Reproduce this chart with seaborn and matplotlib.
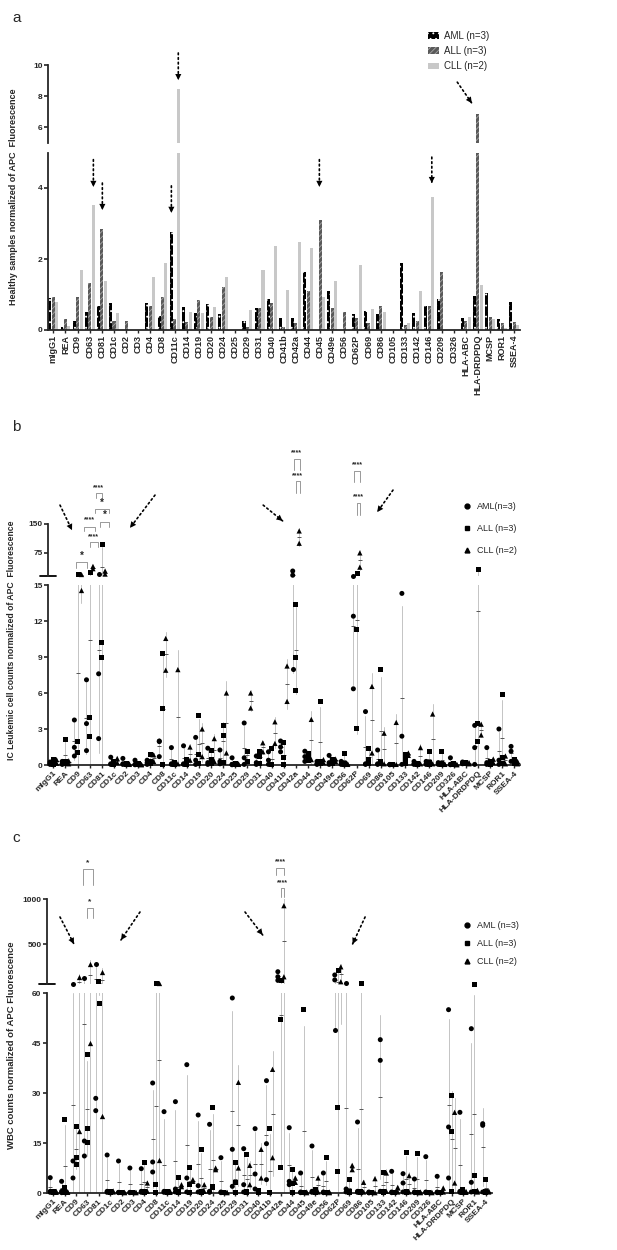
import numpy as np
import pandas as pd
import seaborn as sns
import matplotlib.pyplot as plt
from matplotlib.patches import Patch
from matplotlib.lines import Line2D

sns.set_style('ticks')
plt.rcParams['font.family'] = ['Liberation Sans', 'DejaVu Sans']
plt.rcParams['hatch.linewidth'] = 0.6

MARKERS = ['mIgG1', 'REA', 'CD9', 'CD63', 'CD81', 'CD1c', 'CD2', 'CD3', 'CD4', 'CD8',
           'CD11c', 'CD14', 'CD19', 'CD20', 'CD24', 'CD25', 'CD29', 'CD31', 'CD40', 'CD41b',
           'CD42a', 'CD44', 'CD45', 'CD49e', 'CD56', 'CD62P', 'CD69', 'CD86', 'CD105', 'CD133',
           'CD142', 'CD146', 'CD209', 'CD326', 'HLA-ABC', 'HLA-DRDPDQ', 'MCSP', 'ROR1', 'SSEA-4']
GROUPS = ['AML', 'ALL', 'CLL']

# panel a: healthy samples (mean bars)
a_aml = [0.90, 0.08, 0.25, 0.51, 0.68, 0.75, 0, 0, 0.75, 0.40, 2.77, 0.64, 0.47, 0.72, 0.45, 0,
         0.24, 0.61, 0.87, 0.35, 0.35, 1.62, 0, 1.10, 0, 0.45, 0.53, 0.45, 0, 1.90, 0.47, 0.68,
         0.87, 0, 0.33, 0.96, 1.05, 0.31, 0.78]
a_all = [0.94, 0.30, 0.94, 1.32, 2.84, 0.26, 0.24, 0, 0.68, 0.94, 0.30, 0.23, 0.85, 0.38, 1.22, 0,
         0.09, 0.61, 0.75, 0.09, 0.19, 1.09, 3.10, 0.63, 0.50, 0.33, 0.19, 0.68, 0, 0.13, 0.25, 0.68,
         1.62, 0, 0.24, 6.85, 0.36, 0.19, 0.22]
a_cll = [0.78, 0.10, 1.69, 3.53, 1.38, 0.47, 0, 0, 1.50, 1.90, 8.45, 0.52, 0.49, 0.66, 1.50, 0,
         0.56, 1.70, 2.37, 1.13, 2.48, 2.32, 0.93, 1.38, 0, 1.84, 0.58, 0.52, 0, 0.21, 1.11, 3.76,
         0, 0, 0.36, 1.27, 0.31, 0.05, 0.14]

# panel b: IC leukemic cell counts, one list per marker
b_aml = [[0.25, 0.1, 0.05], [0.3, 0.1, 0.05], [3.75, 1.47, 0.75], [7.1, 3.45, 1.2], [19, 7.6, 2.2],
         [0.65, 0.1, 0.05], [0.55, 0.1, 0.05], [0.4, 0.05, 0.02], [0.4, 0.2, 0.05], [2.0, 1.95, 0.7],
         [1.45, 0.1, 0.05], [1.6, 0.1, 0.05], [2.3, 0.4, 0.05], [1.4, 0.2, 0.05], [1.25, 0.3, 0.1],
         [0.6, 0.05, 0.02], [3.5, 0.6, 0.05], [0.75, 0.2, 0.05], [1.1, 0.4, 0.05], [2.0, 1.5, 1.1],
         [28, 17, 8.0], [1.15, 0.7, 0.3], [0.3, 0.1, 0.05], [0.8, 0.2, 0.05], [0.3, 0.1, 0.05],
         [16, 12.4, 6.35], [4.45, 0.1, 0.05], [1.25, 0.1, 0.05], [0.05, 0.03, 0.02], [14.3, 2.4, 0.05],
         [0.3, 0.1, 0.05], [0.3, 0.1, 0.05], [0.2, 0.1, 0.05], [0.6, 0.05, 0.02], [0.25, 0.15, 0.1],
         [3.3, 1.45, 0.05], [1.45, 0.2, 0.05], [3.0, 0.4, 0.05], [1.55, 1.15, 0.3]]
b_all = [[0.45, 0.1, 0.05], [2.15, 0.3, 0.1], [20, 1.95, 1.03], [25, 4.0, 2.35], [98, 10.2, 8.95],
         [0.3, 0.1, 0.05], [0.1, 0.05, 0.02], [0.1, 0.05, 0.02], [0.85, 0.3, 0.1], [9.3, 4.7, 0.02],
         [0.2, 0.1, 0.05], [0.5, 0.2, 0.05], [4.15, 0.9, 0.1], [1.25, 0.5, 0.1], [3.3, 2.5, 0.2],
         [0.1, 0.05, 0.02], [1.1, 1.1, 0.3], [1.1, 0.7, 0.1], [1.4, 0.05, 0.02], [1.85, 0.65, 0.02],
         [13.4, 9.0, 6.25], [1.0, 0.55, 0.4], [5.3, 0.3, 0.1], [0.5, 0.2, 0.1], [1.0, 0.1, 0.05],
         [22, 11.3, 3.05], [1.4, 0.5, 0.1], [8.0, 0.3, 0.1], [0.05, 0.03, 0.02], [0.85, 0.55, 0.1],
         [0.1, 0.05, 0.02], [1.15, 0.2, 0.05], [1.15, 0.1, 0.05], [0.1, 0.05, 0.02], [0.25, 0.15, 0.1],
         [33, 3.5, 1.95], [0.3, 0.1, 0.05], [5.9, 0.65, 0.1], [0.5, 0.3, 0.1]]
b_cll = [[0.45, 0.15], [0.35, 0.1], [20, 14.6], [40, 34], [28, 20], [0.55, 0.2], [0.1, 0.05],
         [0.05, 0.02], [0.85, 0.3], [10.55, 7.9], [7.95, 0.1], [1.5, 0.4], [3.0, 0.7], [2.2, 0.3],
         [6.0, 1.0], [0.1, 0.05], [6.0, 4.75], [1.85, 1.1], [3.6, 1.8], [8.25, 5.3], [132, 100],
         [3.8, 0.45], [0.45, 0.2], [0.5, 0.3], [0.1, 0.05], [75, 38], [6.55, 1.0], [2.65, 0.1],
         [3.55, 0.05], [1.0, 0.8], [1.45, 0.1], [4.25, 0.1], [0.1, 0.05], [0.05, 0.02], [0.2, 0.1],
         [3.4, 2.5], [0.5, 0.2], [0.75, 0.1], [0.3, 0.1]]

# panel c: WBC counts
c_aml = [[4.6, 0.5, 0.2], [3.5, 0.5, 0.1], [65, 9.6, 4.5], [125, 15.6, 11.1], [281, 28.4, 24.7],
         [11.4, 0.5, 0.2], [9.6, 0.2, 0.1], [7.5, 0.2, 0.1], [7.3, 0.5, 0.2], [33, 9.3, 6.3],
         [24.4, 0.5, 0.2], [27.4, 1.2, 0.3], [38.5, 4.5, 0.3], [23.4, 2.2, 0.3], [20.6, 0.5, 0.2],
         [10.6, 0.3, 0.1], [58.5, 13.1, 2.0], [13.3, 2.5, 0.3], [19.3, 5.7, 1.2], [33.7, 14.8, 4.0],
         [196, 140, 100], [19.6, 3.5, 2.5], [6.0, 0.3, 0.1], [14.1, 0.5, 0.2], [6.0, 0.3, 0.1],
         [160, 105, 49], [75, 1.2, 0.3], [21.3, 0.5, 0.2], [0.3, 0.1, 0.05], [46, 39.8, 0.5],
         [6.5, 0.3, 0.1], [5.8, 3.0, 0.3], [4.2, 0.3, 0.1], [10.9, 0.3, 0.1], [5.0, 0.3, 0.1],
         [55, 19.8, 4.5], [24.2, 0.5, 0.2], [49.3, 3.2, 0.3], [20.8, 20.3, 0.3]]
c_all = [[0.6, 0.3, 0.1], [22.2, 1.8, 0.3], [20.1, 10.8, 8.7], [41.5, 19.3, 15.1], [85, 85, 57],
         [0.6, 0.3, 0.1], [0.2, 0.1, 0.05], [0.2, 0.1, 0.05], [9.1, 0.5, 0.2], [75, 2.7, 0.3],
         [0.5, 0.3, 0.1], [4.7, 0.5, 0.2], [7.8, 2.5, 0.3], [13.1, 0.5, 0.2], [25.7, 2.1, 1.8],
         [0.3, 0.1, 0.05], [9.3, 3.2, 0.3], [11.6, 0.5, 0.2], [0.8, 0.5, 0.2], [19.3, 0.3, 0.1],
         [100, 52, 7.8], [7.0, 3.0, 0.3], [55, 0.3, 0.1], [1.2, 0.5, 0.2], [10.6, 0.3, 0.1],
         [215, 25.6, 6.4], [4.2, 0.5, 0.2], [75, 0.5, 0.2], [0.3, 0.1, 0.05], [6.2, 0.5, 0.2],
         [0.3, 0.1, 0.05], [12.1, 0.5, 0.2], [12.0, 0.3, 0.1], [0.3, 0.1, 0.05], [0.3, 0.1, 0.05],
         [29.2, 18.6, 0.5], [1.2, 0.5, 0.2], [65, 5.2, 0.5], [4.2, 0.5, 0.2]]
c_cll = [[0.5, 0.2], [0.4, 0.2], [140, 18.5], [281, 45], [196, 23], [0.6, 0.3], [0.2, 0.1],
         [0.2, 0.1], [3.0, 0.5], [70, 9.9], [0.5, 0.2], [2.5, 1.9], [4.0, 3.5], [2.5, 0.5],
         [7.5, 7.0], [0.2, 0.1], [33.2, 7.5], [8.3, 2.5], [13.1, 4.5], [37.1, 10.6], [926, 140],
         [4.5, 3.2], [0.3, 0.1], [4.5, 0.3], [0.3, 0.1], [250, 85], [8.3, 7.0], [3.2, 0.3],
         [4.3, 0.1], [6.0, 0.5], [1.7, 0.3], [5.2, 0.3], [0.3, 0.1], [0.2, 0.1], [1.5, 0.3],
         [24.2, 3.0], [0.5, 0.2], [0.8, 0.3], [0.6, 0.3]]

SHAPES = {'AML': 'o', 'ALL': 's', 'CLL': '^'}
W, H = 617, 1250


def long_df(aml, all_, cll):
    rows = []
    for m, va, vb, vc in zip(MARKERS, aml, all_, cll):
        rows += [(m, 'AML', v) for v in va]
        rows += [(m, 'ALL', v) for v in vb]
        rows += [(m, 'CLL', v) for v in vc]
    return pd.DataFrame(rows, columns=['marker', 'group', 'value'])


def px_axes(x0, x1, ytop, ybot):
    return fig.add_axes([x0 / W, 1 - ybot / H, (x1 - x0) / W, (ybot - ytop) / H])


def style_axes(ax, top_part):
    sns.despine(ax=ax, bottom=top_part)
    ax.spines['left'].set_linewidth(1.3)
    ax.spines['bottom'].set_linewidth(1.3)
    ax.tick_params(axis='y', width=1.2, length=3, labelsize=6, pad=1)
    for t in ax.get_yticklabels():
        t.set_fontweight('bold')
    ax.set_xlabel('')
    ax.set_ylabel('')
    if top_part:
        ax.tick_params(axis='x', bottom=False, labelbottom=False)


def bracket(ax, x1, x2, ytop, ylegs, text, ytext, fs=5):
    ax.plot([x1, x1, x2, x2], [ylegs, ytop, ytop, ylegs], color='#999999', lw=0.7, clip_on=False)
    ax.text((x1 + x2) / 2, ytext, text, ha='center', va='center', fontsize=fs,
            fontweight='bold', clip_on=False)


def arrow(ax, tail, head):
    # dotted shaft, solid filled head
    ax.annotate('', xy=head, xytext=tail, annotation_clip=False,
                arrowprops=dict(arrowstyle='-', linestyle=(0, (1, 1.8)), lw=1.2,
                                color='black', shrinkA=0, shrinkB=0))
    ax.annotate('', xy=head, xytext=tail, annotation_clip=False,
                arrowprops=dict(arrowstyle='-|>', lw=0, color='black',
                                mutation_scale=11, shrinkA=0, shrinkB=0))


def scatter_panel(ax_top, ax_bot, df, split, top, xlim):
    for ax, lo, hi in [(ax_bot, 0, split), (ax_top, split, top)]:
        sns.pointplot(data=df, x='marker', y='value', hue='group', order=MARKERS,
                      hue_order=GROUPS, palette={g: '#c4c4c4' for g in GROUPS},
                      errorbar='sd', dodge=0.5333, linestyle='none', marker='_',
                      markersize=0, err_kws={'linewidth': 0.7}, legend=False, ax=ax)
        sns.pointplot(data=df, x='marker', y='value', hue='group', order=MARKERS,
                      hue_order=GROUPS, palette={g: '#555555' for g in GROUPS},
                      errorbar=None, dodge=0.5333, linestyle='none', marker='_',
                      markersize=2.5, markeredgewidth=0.7, legend=False, ax=ax)
        for g in GROUPS:
            sub = df[(df.group == g) & (df.value >= lo) & (df.value <= hi)]
            if sub.empty:
                continue
            sns.stripplot(data=sub, x='marker', y='value', hue='group', order=MARKERS,
                          hue_order=GROUPS, dodge=True, jitter=False, marker=SHAPES[g],
                          size=3.6 if g != 'CLL' else 3.8, palette={k: 'black' for k in GROUPS},
                          linewidth=0, legend=False, ax=ax, clip_on=False, zorder=3)
        ax.set_xlim(*xlim)
    ax_top.set_ylim(split, top)
    ax_bot.set_ylim(0, split)
    style_axes(ax_top, True)
    style_axes(ax_bot, False)
    ax_top.plot([-0.018, 0.018], [0, 0], transform=ax_top.transAxes, color='black',
                lw=1.3, clip_on=False)
    ax_bot.tick_params(axis='x', width=1.0, length=2.5, labelsize=6, pad=1)
    for t in ax_bot.get_xticklabels():
        t.set_rotation(45)
        t.set_ha('right')
        t.set_rotation_mode('anchor')
        t.set_fontweight('bold')


fig = plt.figure(figsize=(W / 100, H / 100), dpi=100)

# ---------------- panel a ----------------
df_a = pd.DataFrame({'marker': MARKERS * 3,
                     'group': np.repeat(GROUPS, len(MARKERS)),
                     'value': a_aml + a_all + a_cll})
bar_colors = {'AML': 'black', 'ALL': '#5a5a5a', 'CLL': '#c8c8c8'}
ax_at = px_axes(48, 520, 65, 143)
ax_ab = px_axes(48, 520, 152.5, 330)
for ax in (ax_at, ax_ab):
    sns.barplot(data=df_a, x='marker', y='value', hue='group', order=MARKERS,
                hue_order=GROUPS, palette=bar_colors, width=0.85, gap=0.12, saturation=1,
                legend=False, ax=ax)
    for cont, g in zip(ax.containers, GROUPS):
        for p in cont:
            if g == 'AML':
                p.set_hatch('...')
                p.set_edgecolor('white')
            elif g == 'ALL':
                p.set_hatch('//////')
                p.set_edgecolor('#a8a8a8')
            else:
                p.set_edgecolor('none')
            p.set_linewidth(0)
    ax.set_xlim(-0.44, 38.47)
ax_at.set_ylim(5, 10)
ax_at.set_yticks([6, 8, 10])
ax_ab.set_ylim(0, 5)
ax_ab.set_yticks([0, 2, 4])
style_axes(ax_at, True)
style_axes(ax_ab, False)
ax_ab.tick_params(axis='x', width=1.0, length=2.5, labelsize=6.5, pad=1)
for t in ax_ab.get_xticklabels():
    t.set_rotation(90)
    t.set_fontweight('bold')

arrow(ax_ab, (3.3, 4.8), (3.3, 4.03))
arrow(ax_ab, (4.04, 4.14), (4.04, 3.38))
arrow(ax_ab, (9.73, 4.06), (9.73, 3.3))
arrow(ax_ab, (21.93, 4.8), (21.93, 4.03))
arrow(ax_ab, (31.2, 4.87), (31.2, 4.14))
arrow(ax_at, (10.3, 10.77), (10.3, 9.03))
arrow(ax_at, (33.3, 8.9), (34.5, 7.55))

a_handles = [Patch(facecolor='black', edgecolor='white', hatch='...', lw=0),
             Patch(facecolor='#5a5a5a', edgecolor='#a8a8a8', hatch='//////', lw=0),
             Patch(facecolor='#c8c8c8', edgecolor='none', lw=0)]
fig.legend(a_handles, ['AML (n=3)', 'ALL (n=3)', 'CLL (n=2)'], loc='upper left',
           bbox_to_anchor=(419 / W, 1 - 22 / H), frameon=False, fontsize=7,
           handlelength=1.2, handleheight=0.7, labelspacing=0.55, handletextpad=0.5)
fig.text(14 / W, 1 - 197 / H, 'Healthy samples normalized of APC  Fluorescence', rotation=90,
         ha='center', va='center', fontsize=6.5, fontweight='bold')
fig.text(12 / W, 1 - 18 / H, 'a', fontsize=11, va='center')

# ---------------- panel b ----------------
df_b = long_df(b_aml, b_all, b_cll)
ax_bt = px_axes(48, 520, 524, 576)
ax_bb = px_axes(48, 520, 585, 765)
scatter_panel(ax_bt, ax_bb, df_b, 15, 150, (-0.44, 38.47))
ax_bt.set_yticks([75, 150])
ax_bb.set_yticks([0, 3, 6, 9, 12, 15])
for t in ax_bt.get_yticklabels() + ax_bb.get_yticklabels():
    t.set_fontweight('bold')

bracket(ax_bt, 1.87, 2.80, 51, 36, '*', 67, 7)
bracket(ax_bt, 3.02, 3.65, 103, 90, '****', 116)
bracket(ax_bt, 2.55, 3.43, 142, 132, '****', 160)
bracket(ax_bt, 3.85, 4.60, 155, 142, '*', 173, 7)
bracket(ax_bt, 3.43, 4.60, 189, 179, '*', 205, 7)
bracket(ax_bt, 3.52, 3.98, 230, 217, '****', 243)
bracket(ax_bt, 19.8, 20.3, 319, 290, '****', 334)
bracket(ax_bt, 20.0, 20.3, 262, 230, '****', 275)
bracket(ax_bt, 24.8, 25.3, 288, 259, '****', 303)
bracket(ax_bt, 25.05, 25.3, 204, 173, '****', 220)
arrow(ax_bt, (0.55, 199), (1.54, 134))
arrow(ax_bt, (8.38, 225), (6.32, 140))
arrow(ax_bt, (17.3, 199), (18.9, 158))
arrow(ax_bt, (28.0, 238), (26.7, 181))

pt_handles = [Line2D([], [], marker=SHAPES[g], color='black', linestyle='none', markersize=3.5)
              for g in GROUPS]
fig.legend(pt_handles, ['AML(n=3)', 'ALL (n=3)', 'CLL (n=2)'], loc='upper left',
           bbox_to_anchor=(454 / W, 1 - 494 / H), frameon=False, fontsize=6.5,
           handlelength=1.0, labelspacing=1.45, handletextpad=0.6)
fig.text(12 / W, 1 - 640 / H, 'IC Leukemic cell counts normalized of APC  Fluorescence',
         rotation=90, ha='center', va='center', fontsize=6.2, fontweight='bold')
fig.text(12 / W, 1 - 427 / H, 'b', fontsize=11, va='center')

# ---------------- panel c ----------------
df_c = long_df(c_aml, c_all, c_cll)
ax_ct = px_axes(47, 492, 899, 984)
ax_cb = px_axes(47, 492, 993, 1193)
scatter_panel(ax_ct, ax_cb, df_c, 60, 1000, (-0.55, 38.55))
ax_ct.set_yticks([500, 1000])
ax_cb.set_yticks([0, 15, 30, 45, 60])
for t in ax_ct.get_yticklabels() + ax_cb.get_yticklabels():
    t.set_fontweight('bold')

bracket(ax_ct, 2.64, 3.46, 1332, 1155, '*', 1398, 6)
bracket(ax_ct, 2.93, 3.46, 900, 790, '*', 967, 6)
bracket(ax_ct, 19.6, 20.3, 1343, 1265, '****', 1409)
bracket(ax_ct, 20.05, 20.3, 1122, 1022, '****', 1177)
arrow(ax_ct, (0.59, 801), (1.82, 502))
arrow(ax_ct, (7.62, 856), (5.95, 547))
arrow(ax_ct, (16.85, 856), (18.4, 602))
arrow(ax_ct, (27.4, 801), (26.3, 502))

fig.legend(pt_handles, ['AML (n=3)', 'ALL (n=3)', 'CLL (n=2)'], loc='upper left',
           bbox_to_anchor=(454 / W, 1 - 913 / H), frameon=False, fontsize=6.5,
           handlelength=1.0, labelspacing=1.0, handletextpad=0.6)
fig.text(12 / W, 1 - 1045 / H, 'WBC counts normalized of APC Fluorescence',
         rotation=90, ha='center', va='center', fontsize=6.8, fontweight='bold')
fig.text(12 / W, 1 - 838 / H, 'c', fontsize=11, va='center')

fig.savefig('out.png', dpi=100)
